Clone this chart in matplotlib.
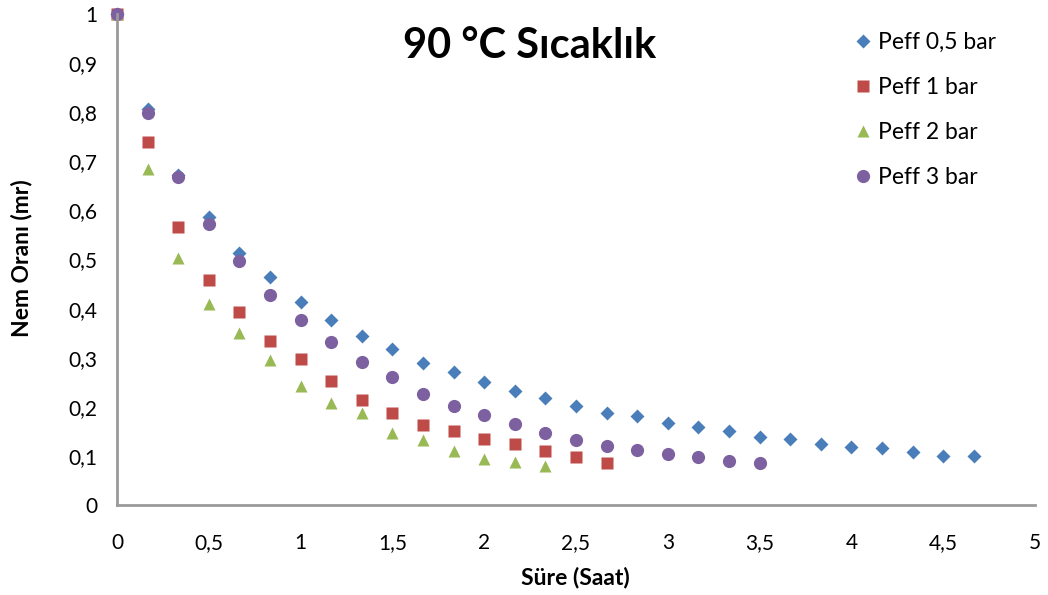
import numpy as np
import matplotlib.pyplot as plt
from matplotlib.ticker import FuncFormatter

plt.rcParams['font.family'] = ['Lato', 'DejaVu Sans']

# drying time in hours, one reading every 10 minutes
t_05 = [0, 1/6, 2/6, 3/6, 4/6, 5/6, 1, 7/6, 8/6, 9/6, 10/6, 11/6, 2, 13/6, 14/6, 15/6,
        16/6, 17/6, 3, 19/6, 20/6, 21/6, 22/6, 23/6, 4, 25/6, 26/6, 27/6, 28/6]
mr_05 = [1, 0.806, 0.672, 0.587, 0.513, 0.464, 0.413, 0.377, 0.344, 0.318, 0.289, 0.271,
         0.250, 0.232, 0.218, 0.202, 0.187, 0.181, 0.167, 0.159, 0.151, 0.138, 0.134,
         0.124, 0.118, 0.116, 0.108, 0.100, 0.100]

t_1 = t_05[:17]
mr_1 = [1, 0.739, 0.566, 0.458, 0.393, 0.334, 0.297, 0.253, 0.214, 0.187, 0.163, 0.151,
        0.134, 0.124, 0.110, 0.098, 0.086]

t_2 = t_05[:15]
mr_2 = [1, 0.684, 0.503, 0.409, 0.350, 0.295, 0.242, 0.208, 0.187, 0.147, 0.132, 0.110,
        0.094, 0.088, 0.079]

t_3 = t_05[:22]
mr_3 = [1, 0.798, 0.668, 0.572, 0.497, 0.428, 0.377, 0.332, 0.291, 0.261, 0.226, 0.202,
        0.183, 0.165, 0.147, 0.132, 0.120, 0.112, 0.104, 0.098, 0.090, 0.086]

W, H = 1048, 595
fig = plt.figure(figsize=(W/100, H/100), dpi=100)
ax = fig.add_axes([117/W, 1 - 505/H, (1035 - 117)/W, (505 - 14)/H])

ax.plot(t_05, mr_05, 'D', color='#4A7EBB', ms=7.5, mec='none', clip_on=False, label='Peff 0,5 bar')
ax.plot(t_1, mr_1, 's', color='#BE4B48', ms=8.5, mec='none', clip_on=False, label='Peff 1 bar')
ax.plot(t_2, mr_2, '^', color='#98B954', ms=9, mec='none', clip_on=False, label='Peff 2 bar')
ax.plot(t_3, mr_3, 'o', color='#7D60A0', ms=9.5, mec='none', clip_on=False, label='Peff 3 bar')

ax.set_xlim(0, 5)
ax.set_ylim(0, 1)
ax.set_xticks(np.arange(0, 5.01, 0.5))
ax.set_yticks(np.arange(0, 1.01, 0.1))
comma = FuncFormatter(lambda v, p: ('%g' % round(v, 2)).replace('.', ','))
ax.xaxis.set_major_formatter(comma)
ax.yaxis.set_major_formatter(comma)
ax.tick_params(length=0, labelsize=15, pad=14)
ax.tick_params(axis='x', pad=20)

for s in ['top', 'right']:
    ax.spines[s].set_visible(False)
for s in ['left', 'bottom']:
    ax.spines[s].set_color('#9A9A9A')
    ax.spines[s].set_linewidth(2)

ax.set_xlabel('Süre (Saat)', fontsize=16.5, fontweight='bold')
ax.set_ylabel('Nem Oranı (mr)', fontsize=16.5, fontweight='bold')
ax.xaxis.set_label_coords(575/W, 1 - 577/H, transform=fig.transFigure)
ax.yaxis.set_label_coords(22/W, 1 - 258/H, transform=fig.transFigure)
ax.xaxis.label.set_va('center')
ax.yaxis.label.set_va('center')

fig.text(530/W, 1 - 46/H, '90 °C Sıcaklık', fontsize=30, fontweight='bold', ha='center', va='center')

ax.legend(loc='upper left', bbox_to_anchor=(840/W, 1 - 23/H), bbox_transform=fig.transFigure,
          frameon=False, fontsize=16.5, handletextpad=0.05, labelspacing=1.05, handlelength=1.2,
          borderaxespad=0)

fig.savefig('out.png', dpi=100)
